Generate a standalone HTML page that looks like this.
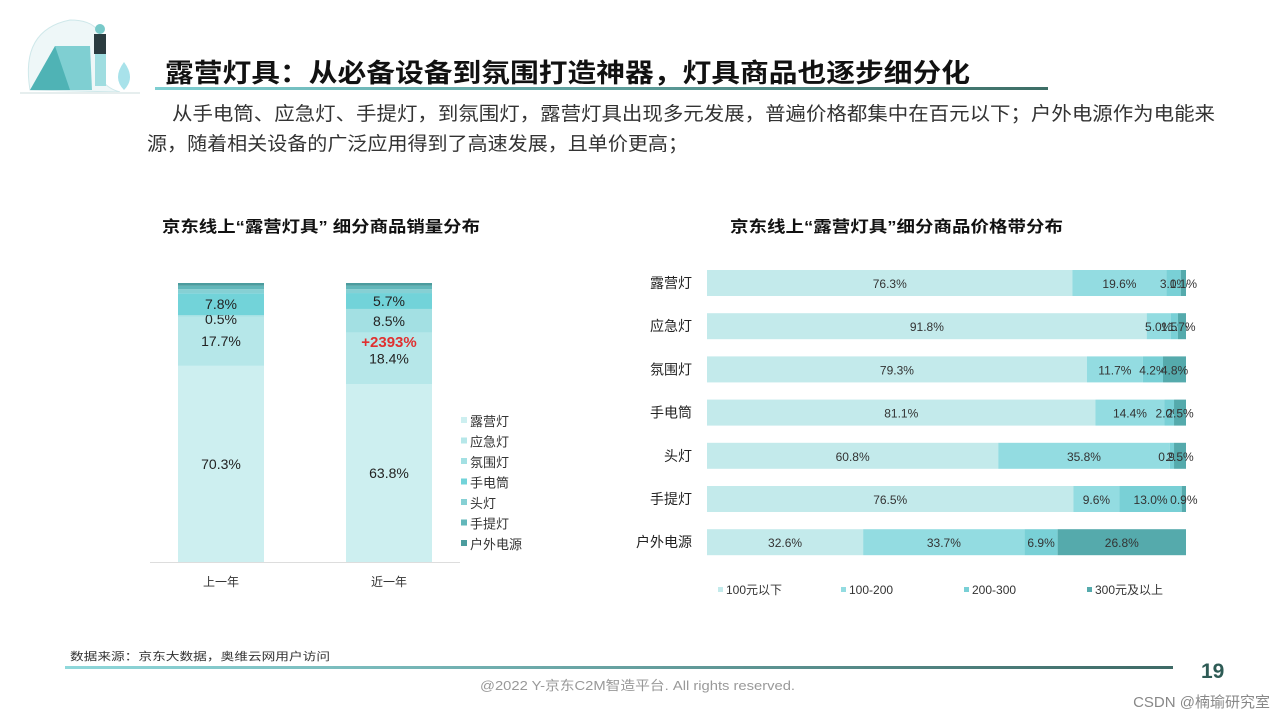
<!DOCTYPE html>
<html><head><meta charset="utf-8">
<style>
body{margin:0;width:1280px;height:720px;background:#fff;position:relative;overflow:hidden;font-family:"Liberation Sans","Noto Sans CJK SC",sans-serif;color:#222}
.abs{position:absolute}
</style></head><body>
<svg class="abs" style="left:0;top:0" width="1280" height="720">
  <g>
    <path d="M30 90 Q20 30 70 20 Q110 20 100 60 Q95 85 120 92 Z" fill="#eef7f8" stroke="#cfe8ea"/>
    <polygon points="30,90 55,46 90,46 88,90" fill="#4fb3b5"/>
    <polygon points="55,46 90,46 92,90 70,90" fill="#7fcfd2"/>
    <rect x="94" y="34" width="12" height="20" fill="#2b3c40"/>
    <rect x="95" y="54" width="11" height="32" fill="#9fdde0"/>
    <circle cx="100" cy="29" r="5" fill="#78c9c9"/>
    <path d="M124 90 Q112 78 124 62 Q136 78 124 90Z" fill="#a8e2ea"/>
    <rect x="20" y="92" width="120" height="2" fill="#e6eeee"/>
  </g>
  <text x="165" y="82" font-size="26" font-weight="bold" fill="#111" textLength="805" lengthAdjust="spacingAndGlyphs">露营灯具：从必备设备到氛围打造神器，灯具商品也逐步细分化</text>
  <defs>
    <linearGradient id="gl" x1="0" x2="1"><stop offset="0" stop-color="#7fcfd2"/><stop offset="1" stop-color="#3d6e66"/></linearGradient>
    <linearGradient id="gf" x1="0" x2="1"><stop offset="0" stop-color="#8fd8db"/><stop offset="1" stop-color="#3e6a66"/></linearGradient>
  </defs>
  <rect x="155" y="87" width="893" height="3" fill="url(#gl)"/>
  <text font-size="19" fill="#333"><tspan x="172" y="120" textLength="1043" lengthAdjust="spacingAndGlyphs">从手电筒、应急灯、手提灯，到氛围灯，露营灯具出现多元发展，普遍价格都集中在百元以下；户外电源作为电能来</tspan><tspan x="147" y="150" textLength="541" lengthAdjust="spacingAndGlyphs">源，随着相关设备的广泛应用得到了高速发展，且单价更高；</tspan></text>
  <text x="162" y="232" font-size="16" font-weight="bold" fill="#111" textLength="318" lengthAdjust="spacingAndGlyphs">京东线上“露营灯具” 细分商品销量分布</text>
  <text x="730" y="232" font-size="16" font-weight="bold" fill="#111" textLength="333" lengthAdjust="spacingAndGlyphs">京东线上“露营灯具”细分商品价格带分布</text>
  <rect x="65" y="666" width="1108" height="3" fill="url(#gf)"/>
  <text x="70" y="660" font-size="11" fill="#333" textLength="260" lengthAdjust="spacingAndGlyphs">数据来源：京东大数据，奥维云网用户访问</text>
  <text x="1201" y="678" font-size="21" font-weight="bold" fill="#2e5b55">19</text>
  <text x="480" y="690" font-size="13" fill="#999" textLength="315" lengthAdjust="spacingAndGlyphs">@2022 Y-京东C2M智造平台. All rights reserved.</text>
  <text x="1270" y="707" font-size="15" fill="#888" text-anchor="end">CSDN @楠瑜研究室</text>
  <g id="left"></g>
  <g id="right"></g>
</svg>
<script>
const ns="http://www.w3.org/2000/svg";
function mk(p,t,a){const e=document.createElementNS(ns,t);for(const k in a)e.setAttribute(k,a[k]);p.appendChild(e);return e;}
// Left chart data
const leftCats=["上一年","近一年"];
const leftSeries=["露营灯","应急灯","氛围灯","手电筒","头灯","手提灯","户外电源"];
const leftPrev=[70.3,17.7,0.5,7.8,1.5,1.2,1.0];
const leftCurr=[63.8,18.4,8.5,5.7,1.4,1.2,1.0];
const leftColors=["#cdeff0","#b6e7e9","#a3e0e3","#72d3d9","#86d0d4","#62b7ba","#4b9c9e"];
// Right chart data
const rightCats=["露营灯","应急灯","氛围灯","手电筒","头灯","手提灯","户外电源"];
const rightSeries=["100元以下","100-200","200-300","300元及以上"];
const s100=[76.3,91.8,79.3,81.1,60.8,76.5,32.6];
const s200=[19.6,5.0,11.7,14.4,35.8,9.6,33.7];
const s300=[3.0,1.5,4.2,2.0,0.9,13.0,6.9];
const s300p=[1.1,1.7,4.8,2.5,2.5,0.9,26.8];
const rightColors=["#c3eaeb","#93dce1","#79d0d6","#55aaac"];

const L=document.getElementById('left');
const lY=v=>562-v*279/100;
const lX=i=>178+i*168, bw=86;
[leftPrev,leftCurr].forEach((vals,i)=>{
  let acc=0;
  vals.forEach((v,j)=>{
    const r=mk(L,'rect',{x:lX(i),y:lY(acc+v),width:bw,height:lY(acc)-lY(acc+v),fill:leftColors[j]});
    
    
    if(j<4){
      const t=mk(L,'text',{x:lX(i)+bw/2,y:(lY(acc)+lY(acc+v))/2+5+(j===2&&i===0?3:0),'font-size':14,'text-anchor':'middle',fill:'#222'});
      t.textContent=v.toFixed(1)+'%';
      
      
    }
    acc+=v;
  });
  const c=mk(L,'text',{x:lX(i)+bw/2,y:586,'font-size':12,'text-anchor':'middle',fill:'#333'});
  c.textContent=leftCats[i];
  
  
});
mk(L,'line',{x1:150,x2:460,y1:562.5,y2:562.5,stroke:'#ddd'});
const g=mk(L,'text',{x:lX(1)+bw/2,y:347,'font-size':15,'font-weight':'bold','text-anchor':'middle',fill:'#e03030'});
g.textContent='+2393%';


leftSeries.forEach((s,j)=>{
  const y=421+j*20.5;
  const r=mk(L,'rect',{x:461,y:y-4,width:6,height:6,fill:leftColors[j]});
  
  
  const t=mk(L,'text',{x:470,y:y+5,'font-size':13,fill:'#333'});
  t.textContent=s;
  
  
});

const R=document.getElementById('right');
const rx=v=>707+v*479/100;
const ry=i=>283+i*43.2;
const rvals=[s100,s200,s300,s300p];
rightCats.forEach((c,i)=>{
  let acc=0;
  rvals.forEach((arr,k)=>{
    const v=arr[i];
    const r=mk(R,'rect',{x:rx(acc),y:ry(i)-13,width:rx(acc+v)-rx(acc),height:26,fill:rightColors[k]});
    
    
    const t=mk(R,'text',{x:(rx(acc)+rx(acc+v))/2,y:ry(i)+5,'font-size':12,'text-anchor':'middle',fill:'#333'});
    t.textContent=v.toFixed(1)+'%';
    
    
    acc+=v;
  });
  const t=mk(R,'text',{x:692,y:ry(i)+5,'font-size':14,'text-anchor':'end',fill:'#222'});
  t.textContent=c;
  
  
});
rightSeries.forEach((s,k)=>{
  const x=718+k*123;
  const r=mk(R,'rect',{x:x,y:587,width:5,height:5,fill:rightColors[k]});
  
  
  const t=mk(R,'text',{x:x+8,y:594,'font-size':12,fill:'#333'});
  t.textContent=s;
  
  
});
</script>
</body></html>
